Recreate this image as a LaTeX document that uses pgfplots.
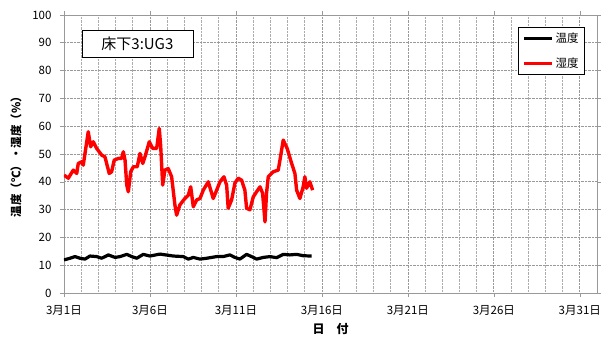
\documentclass[border=0pt]{standalone}
\usepackage{fontspec}
\setmainfont{Noto Sans CJK JP}
\usepackage{pgfplots}
\pgfplotsset{compat=1.18}

% 温度: logger temperature, 湿度: relative humidity (x = days after 3/1)
\pgfplotstableread{
d t
0.00 11.9
0.35 12.5
0.64 13.1
0.93 12.5
1.22 12.2
1.51 13.3
1.90 13.1
2.19 12.5
2.58 13.7
2.97 12.8
3.26 13.1
3.65 13.9
3.94 13.1
4.23 12.5
4.61 13.9
5.00 13.3
5.58 14.0
6.36 13.3
6.94 13.1
7.23 12.2
7.52 12.8
7.91 12.2
8.30 12.5
8.88 13.1
9.26 13.1
9.65 13.7
9.94 12.8
10.23 12.2
10.62 13.9
11.01 12.8
11.20 12.2
11.59 12.8
11.98 13.1
12.37 12.7
12.75 13.9
13.14 13.7
13.53 13.9
13.92 13.4
14.40 13.3
}\temp

\pgfplotstableread{
d h
0.00 42.4
0.25 41.3
0.54 44.2
0.74 43.0
0.83 46.6
1.03 47.2
1.12 46.0
1.41 58.0
1.55 52.6
1.70 54.4
1.90 52.0
2.19 49.6
2.38 49.0
2.63 43.0
2.77 43.6
2.92 47.8
3.16 48.4
3.35 48.4
3.45 50.8
3.55 47.8
3.65 38.8
3.74 36.4
3.88 43.6
4.03 45.4
4.26 45.4
4.42 50.2
4.58 46.6
4.71 49.0
4.96 54.4
5.16 52.0
5.39 52.0
5.54 59.2
5.62 53.2
5.74 38.8
5.87 44.2
6.06 44.8
6.26 41.8
6.45 31.7
6.55 28.0
6.74 31.7
7.03 34.0
7.23 35.2
7.37 38.2
7.52 31.0
7.72 33.5
7.91 34.0
8.10 37.0
8.39 40.0
8.68 34.0
8.88 37.0
9.07 40.0
9.30 41.8
9.46 38.8
9.55 30.5
9.75 33.5
9.94 39.5
10.13 41.3
10.33 40.6
10.52 37.0
10.62 30.5
10.81 29.9
11.01 34.6
11.20 36.4
11.40 38.2
11.55 35.9
11.69 25.6
11.78 35.9
11.88 41.8
12.17 43.6
12.46 44.2
12.56 47.8
12.75 55.0
12.98 52.0
13.24 46.6
13.43 43.0
13.53 37.0
13.72 34.0
13.91 38.2
14.01 41.8
14.11 37.7
14.30 40.0
14.46 37.0
}\humid

\begin{document}
\begin{tikzpicture}
\begin{axis}[
  name=ax,
  scale only axis,
  width=533pt, height=278pt,
  xmin=0, xmax=31, ymin=0, ymax=100,
  xtick={0,5,...,30},
  xticklabels={3月1日,3月6日,3月11日,3月16日,3月21日,3月26日,3月31日},
  minor x tick num=4,
  ytick={0,10,...,100},
  grid=both,
  major grid style={gray!80, densely dotted, line width=0.7pt},
  minor grid style={gray!65, densely dotted, line width=0.6pt},
  axis line style={gray!80, line width=0.6pt},
  tick align=outside,
  major tick length=4pt,
  minor tick length=0pt,
  tick style={gray!80, line width=0.6pt},
  /pgf/number format/assume math mode=true,
  tick label style={font=\fontsize{11.5}{13}\selectfont},
  xticklabel style={yshift=-5pt},
  yticklabel style={xshift=-5pt},
  xlabel={\textbf{日　付}},
  xlabel style={font=\fontsize{12}{14}\selectfont, yshift=-1pt},
  ylabel={\textbf{温度（℃）・湿度（\%）}},
  ylabel style={font=\fontsize{11.5}{14}\selectfont, yshift=4pt},
  legend style={
    at={(1,1)}, anchor=north east, xshift=-12pt, yshift=-12pt,
    draw=black, line width=0.6pt, fill=white,
    font=\fontsize{11.5}{13}\selectfont,
    inner xsep=4pt, inner ysep=4pt,
    row sep=9pt,
    cells={anchor=west},
  },
  legend image code/.code={\draw[#1, line width=3pt] (0pt,0pt) -- (28pt,0pt);},
  legend cell align=left,
]
\addplot[black, line width=3.2pt, line join=round] table[x=d, y=t] {\temp};
\addlegendentry{温度}
\addplot[red, line width=3.4pt, line join=round] table[x=d, y=h] {\humid};
\addlegendentry{湿度}

\node[draw=black, line width=0.7pt, fill=white, minimum width=111pt, minimum height=27pt,
      font=\fontsize{15}{17}\selectfont] at (axis cs:4.27,89.7) {床下3:UG3};
\end{axis}
\pgfresetboundingbox
\path[use as bounding box] ([xshift=-64pt, yshift=-47pt]ax.south west) rectangle ([xshift=14pt, yshift=15pt]ax.north east);
\end{tikzpicture}
\end{document}
